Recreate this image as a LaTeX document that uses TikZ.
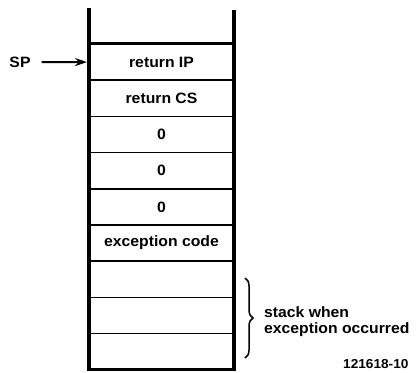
\documentclass[tikz,border=0pt]{standalone}
\usepackage{fontspec}
\setmainfont{Liberation Sans}[FakeStretch=1.05]
\usepackage{tikz}
\usetikzlibrary{positioning}
\usetikzlibrary{arrows.meta}
\usetikzlibrary{decorations.pathreplacing}

\tikzset{
  cell/.style={draw,line width=1.6pt,minimum width=145pt,minimum height=36.2pt,
    inner sep=0pt,outer sep=0pt,font=\fontsize{15}{17}\selectfont\bfseries},
  wall/.style={line width=4pt},
  lid/.style={line width=3pt},
  txt/.style={inner sep=0pt,font=\fontsize{15}{16}\selectfont\bfseries}
}

\begin{document}
\begin{tikzpicture}[x=1pt,y=1pt]
			\useasboundingbox (0,0) rectangle (417,372);
			% the stack, top entry first
			\node[cell] (ip) at (161.5,309.9) {return IP};
			\node[cell,below=0pt of ip] (cs) {return CS};
			\node[cell,below=0pt of cs] (za) {0};
			\node[cell,below=0pt of za] (zb) {0};
			\node[cell,below=0pt of zb] (zc) {0};
			\node[cell,below=0pt of zc] (code) {exception code};
			\node[cell,below=0pt of code] (old1) {};
			\node[cell,below=0pt of old1] (old2) {};
			\node[cell,below=0pt of old2] (old3) {};
			% side walls and thick ends
			\draw[wall] ([yshift=36pt]ip.north west) -- ([yshift=-1pt]old3.south west);
			\draw[wall] ([yshift=34pt]ip.north east) -- ([yshift=-1pt]old3.south east);
			\draw[lid] (ip.north west) -- (ip.north east);
			\draw[lid] (old3.south west) -- (old3.south east);
			% stack pointer
			\node[txt] (sp) at (20,310) {SP};
			\draw[line width=2pt,-{Stealth[length=12pt,width=8pt]},shorten <=11pt,shorten >=2pt] (sp.east) -- (ip.west);
			% old part of the stack
			\coordinate (bt) at (245,94);
			\coordinate (bb) at (245,14);
			\draw[line width=1.5pt,decorate,decoration={brace,amplitude=8pt}] (bt) -- (bb);
			\node[txt,anchor=west,align=left] (note) at (264,50) {stack when\\exception occurred};
			\node[inner sep=0pt,anchor=base west,font=\fontsize{13}{15}\selectfont\bfseries] (fig) at (343,3.5) {121618-10};
		\end{tikzpicture}
\end{document}
